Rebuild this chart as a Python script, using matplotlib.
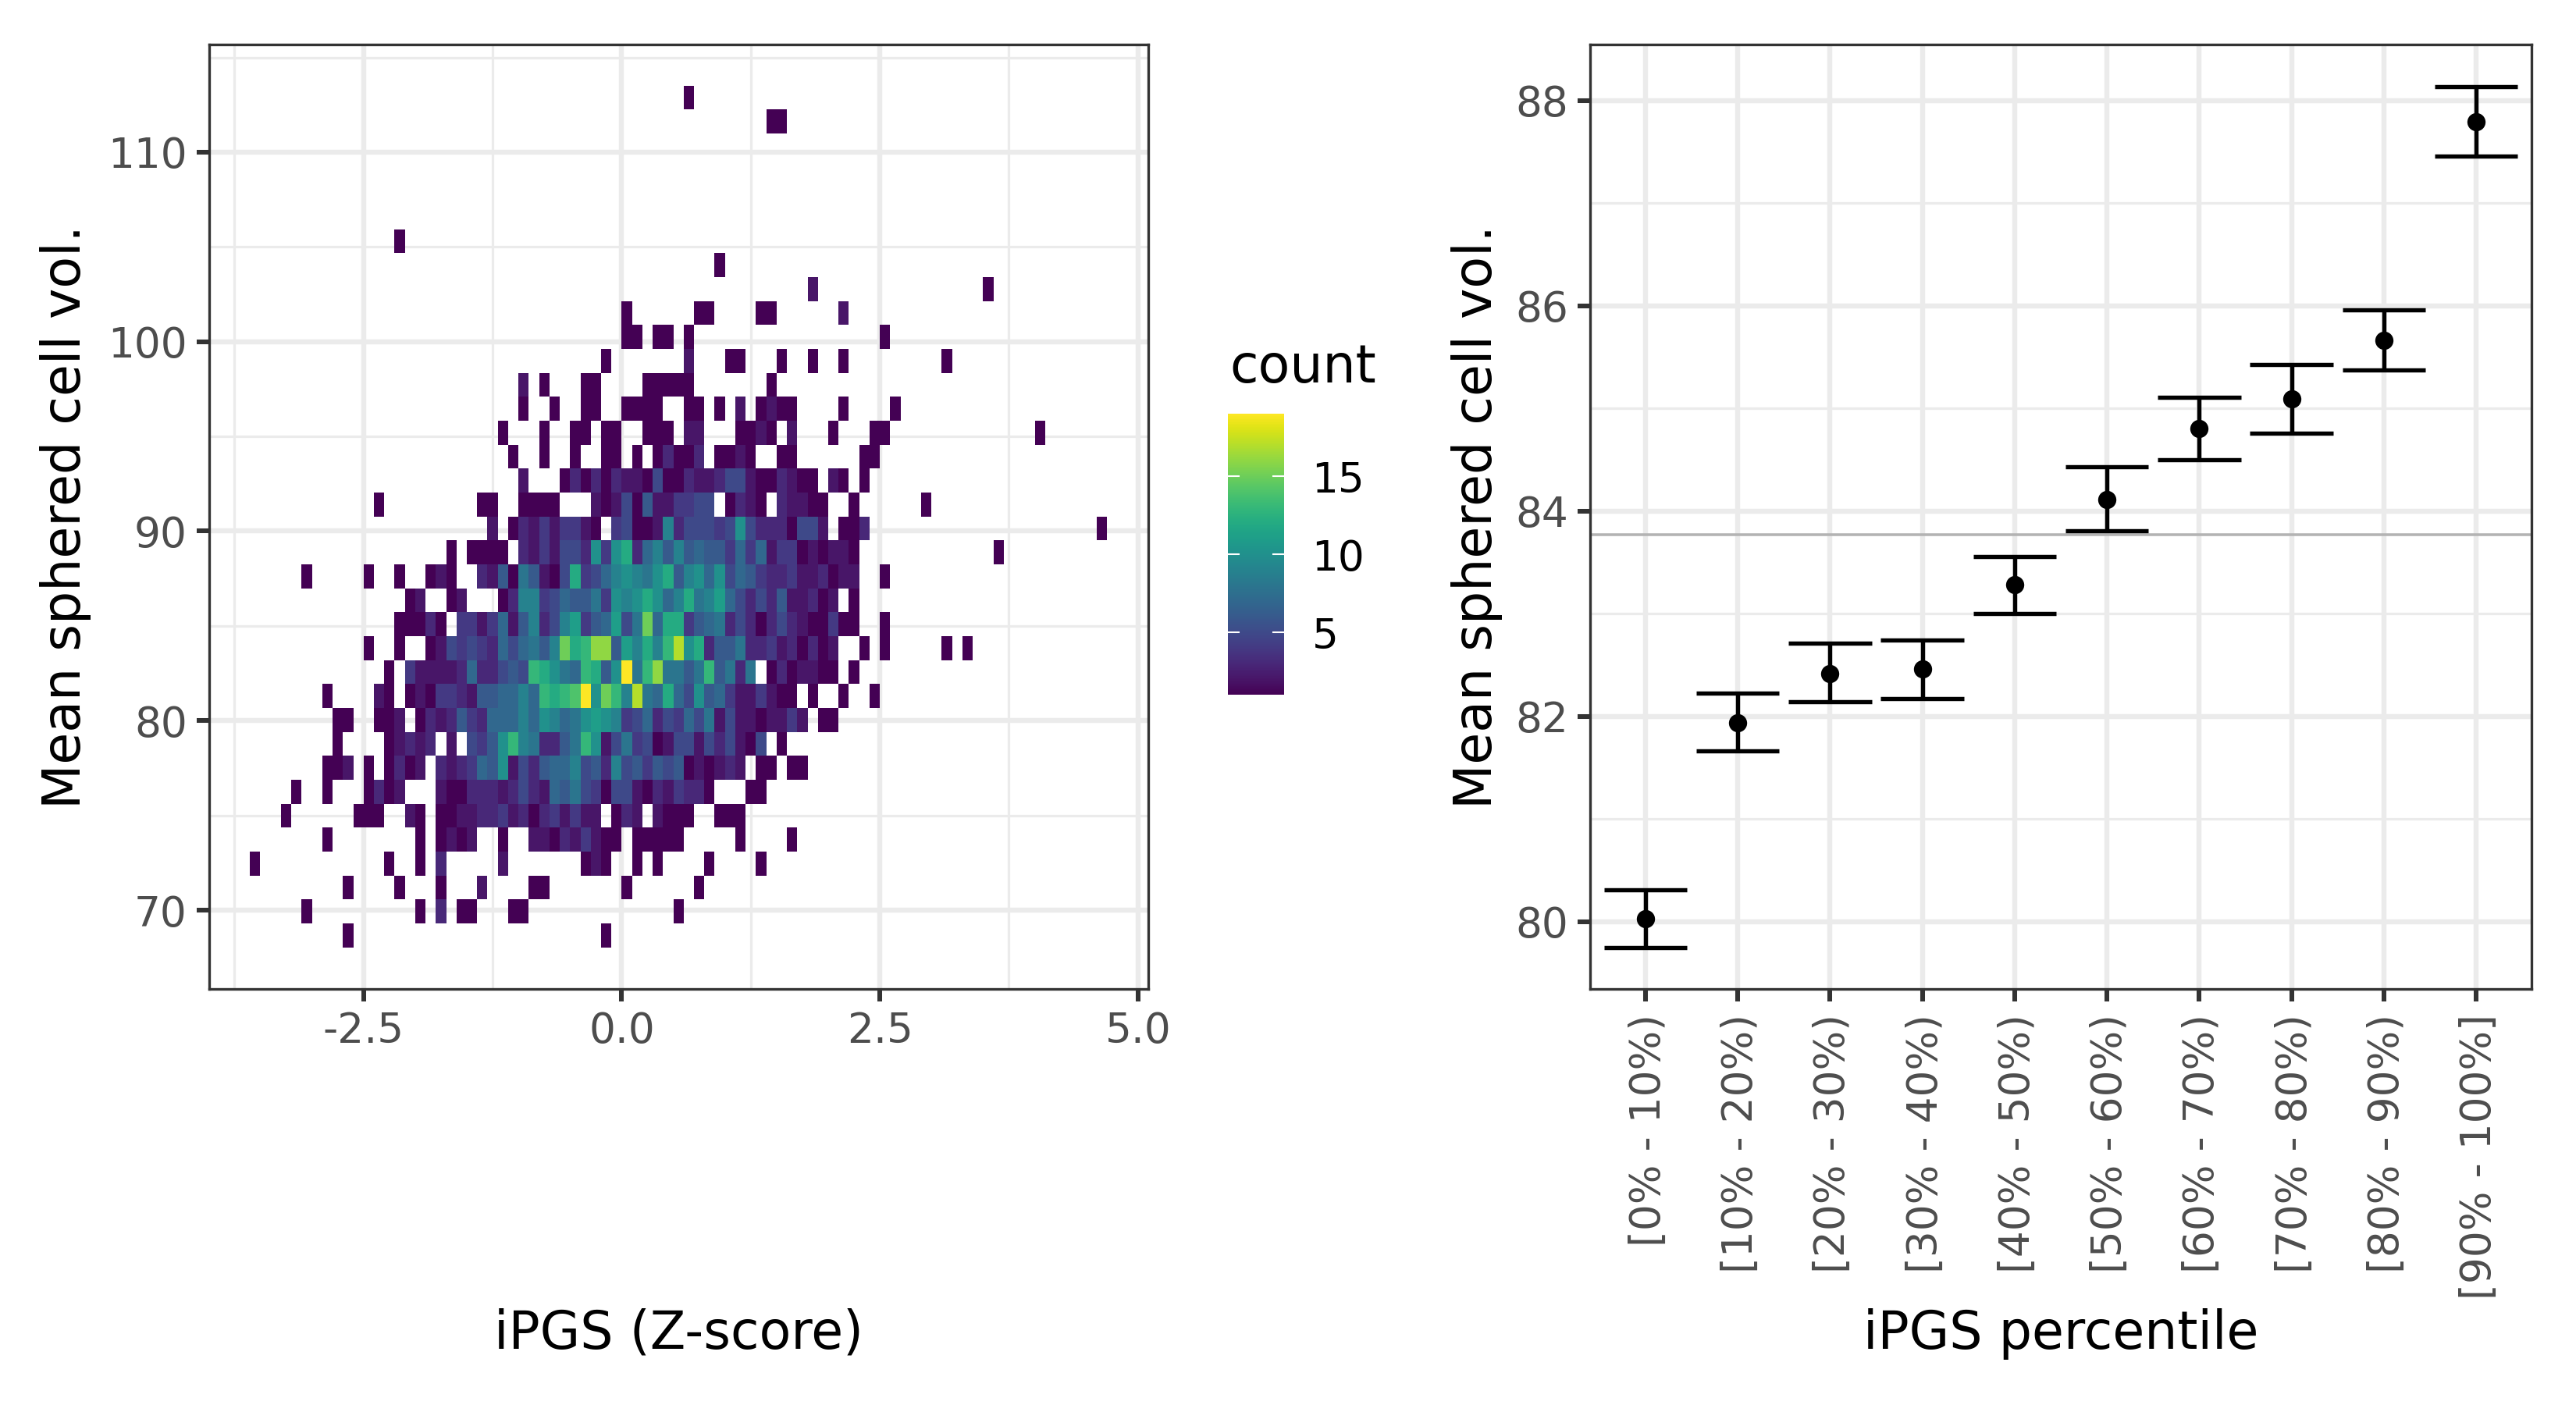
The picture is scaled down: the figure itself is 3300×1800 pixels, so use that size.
import numpy as np
import matplotlib
matplotlib.use('Agg')
import matplotlib.pyplot as plt
from matplotlib.transforms import ScaledTranslation

# Heatmap: non-empty bins per row, listed from the top row down ({column: count})
count_rows = [
    {42: 1},
    {50: 1, 51: 1},
    {},
    {},
    {},
    {},
    {14: 1},
    {45: 1},
    {54: 2, 71: 1},
    {36: 1, 43: 1, 44: 1, 49: 1, 50: 1, 57: 2},
    {36: 1, 37: 1, 39: 1, 40: 1, 42: 1, 61: 1},
    {34: 1, 42: 2, 46: 1, 47: 1, 51: 1, 54: 1, 57: 1, 67: 1},
    {26: 2, 28: 1, 32: 1, 33: 1, 38: 1, 39: 1, 40: 1, 41: 1, 42: 1, 50: 1},
    {26: 1, 29: 1, 32: 1, 33: 1, 36: 1, 37: 1, 38: 1, 39: 1, 42: 1, 43: 1, 45: 1,
     47: 2, 49: 1, 50: 2, 51: 1, 52: 1, 57: 1, 62: 1},
    {24: 1, 28: 1, 31: 1, 32: 1, 34: 1, 35: 1, 38: 1, 39: 1, 40: 1, 42: 2, 43: 2,
     47: 1, 48: 1, 49: 2, 50: 1, 52: 2, 56: 1, 60: 1, 61: 1, 76: 1},
    {25: 1, 28: 1, 31: 1, 34: 1, 35: 1, 37: 1, 39: 1, 40: 3, 41: 1, 42: 1, 43: 3,
     45: 1, 46: 1, 47: 2, 48: 1, 51: 1, 52: 1, 59: 1, 60: 1},
    {26: 2, 30: 1, 31: 3, 32: 1, 33: 3, 34: 1, 35: 3, 36: 2, 37: 2, 38: 1, 39: 5,
     40: 1, 41: 1, 42: 3, 43: 2, 44: 2, 45: 3, 46: 5, 47: 5, 48: 2, 49: 1, 50: 1,
     51: 3, 52: 2, 53: 1, 54: 1, 56: 2, 57: 1, 59: 1},
    {12: 1, 22: 1, 23: 1, 26: 1, 27: 1, 28: 1, 29: 1, 33: 2, 34: 1, 35: 2, 36: 5,
     37: 1, 38: 6, 39: 2, 40: 2, 41: 4, 42: 4, 43: 5, 44: 5, 46: 1, 47: 3, 48: 2,
     49: 1, 51: 3, 52: 2, 53: 2, 54: 1, 55: 1, 58: 1, 65: 1},
    {23: 2, 25: 1, 26: 3, 27: 2, 28: 4, 29: 2, 30: 4, 31: 4, 32: 2, 33: 1, 35: 4,
     36: 5, 37: 1, 38: 1, 39: 2, 40: 9, 41: 3, 42: 5, 43: 5, 44: 5, 45: 4, 46: 5,
     47: 10, 48: 5, 49: 3, 50: 3, 51: 3, 52: 1, 53: 5, 54: 5, 55: 2, 57: 1, 58: 1,
     59: 3, 82: 1},
    {19: 1, 21: 1, 22: 1, 23: 1, 24: 1, 26: 3, 27: 2, 28: 4, 29: 2, 30: 5, 31: 5,
     32: 3, 33: 10, 34: 4, 35: 10, 36: 12, 37: 3, 38: 7, 39: 9, 40: 6, 41: 9, 42: 6,
     43: 7, 44: 6, 45: 6, 46: 4, 47: 7, 48: 4, 49: 7, 50: 2, 51: 4, 52: 4, 53: 1,
     54: 2, 55: 1, 56: 2, 57: 2, 58: 1, 72: 1},
    {5: 1, 11: 1, 14: 1, 17: 1, 18: 2, 19: 1, 22: 3, 23: 2, 24: 6, 25: 1, 26: 8,
     27: 6, 28: 2, 29: 1, 30: 5, 31: 12, 32: 4, 33: 5, 34: 7, 35: 9, 36: 10, 37: 9,
     38: 8, 39: 10, 40: 12, 41: 6, 42: 9, 43: 10, 44: 7, 45: 10, 46: 5, 47: 7, 48: 6,
     49: 4, 50: 3, 51: 3, 52: 4, 53: 2, 54: 2, 55: 3, 56: 1, 57: 2, 58: 2, 61: 1},
    {15: 1, 16: 2, 19: 1, 20: 2, 24: 1, 25: 3, 26: 9, 27: 9, 28: 4, 29: 5, 30: 7,
     31: 6, 32: 6, 33: 8, 34: 4, 35: 10, 36: 9, 37: 10, 38: 12, 39: 10, 40: 7, 41: 9,
     42: 12, 43: 8, 44: 9, 45: 11, 46: 7, 47: 5, 48: 3, 49: 5, 50: 3, 51: 6, 52: 2,
     53: 2, 54: 3, 55: 1, 56: 2, 58: 1},
    {14: 1, 15: 1, 16: 1, 17: 3, 18: 1, 20: 4, 21: 4, 22: 2, 23: 4, 24: 7, 25: 2,
     26: 6, 27: 9, 28: 3, 29: 5, 30: 9, 31: 11, 32: 4, 33: 6, 34: 7, 35: 11, 36: 5,
     37: 8, 38: 15, 39: 7, 40: 12, 41: 12, 42: 4, 43: 6, 44: 7, 45: 8, 46: 3, 47: 5,
     48: 3, 49: 1, 50: 3, 51: 5, 52: 3, 53: 2, 54: 1, 55: 1, 56: 4, 57: 1, 58: 1, 61: 1},
    {11: 1, 14: 1, 17: 1, 18: 2, 19: 5, 20: 4, 21: 5, 22: 4, 23: 3, 24: 7, 25: 5,
     26: 7, 27: 8, 28: 6, 29: 9, 30: 15, 31: 12, 32: 13, 33: 16, 34: 16, 35: 6, 36: 11,
     37: 9, 38: 12, 39: 9, 40: 13, 41: 17, 42: 10, 43: 12, 44: 3, 45: 6, 46: 6, 47: 8,
     48: 3, 49: 3, 50: 4, 51: 2, 52: 3, 53: 1, 54: 3, 55: 1, 56: 2, 59: 1, 61: 1, 67: 1, 69: 1},
    {13: 1, 15: 4, 16: 2, 17: 2, 18: 2, 19: 2, 20: 3, 21: 7, 22: 3, 23: 3, 24: 5,
     25: 6, 26: 5, 27: 13, 28: 12, 29: 10, 30: 8, 31: 7, 32: 13, 33: 12, 34: 6, 35: 10,
     36: 19, 37: 8, 38: 13, 39: 16, 40: 8, 41: 8, 42: 6, 43: 8, 44: 13, 45: 6, 46: 8,
     47: 3, 48: 8, 50: 1, 51: 3, 52: 1, 53: 2, 54: 2, 55: 1, 56: 1, 58: 1},
    {7: 1, 12: 2, 13: 1, 15: 1, 16: 2, 17: 1, 18: 4, 19: 4, 20: 3, 21: 2, 22: 6,
     23: 6, 24: 7, 25: 7, 26: 9, 27: 7, 28: 13, 29: 12, 30: 13, 31: 14, 32: 19, 33: 10,
     34: 15, 35: 13, 36: 9, 37: 17, 38: 8, 39: 7, 40: 12, 41: 7, 42: 5, 43: 10, 44: 6,
     45: 7, 46: 4, 47: 2, 48: 2, 49: 4, 50: 2, 51: 1, 52: 1, 54: 1, 57: 1, 60: 1},
    {8: 1, 9: 1, 12: 1, 13: 1, 14: 2, 16: 1, 17: 3, 18: 2, 19: 3, 20: 6, 21: 4,
     22: 3, 23: 7, 24: 7, 25: 7, 26: 9, 27: 7, 28: 10, 29: 9, 30: 7, 31: 8, 32: 10,
     33: 11, 34: 10, 35: 9, 36: 4, 37: 5, 38: 7, 39: 3, 40: 5, 41: 4, 42: 7, 43: 5,
     44: 8, 45: 2, 46: 5, 47: 2, 48: 2, 49: 1, 50: 2, 51: 2, 52: 4, 53: 2, 55: 1, 56: 1},
    {8: 1, 13: 1, 14: 2, 15: 3, 16: 2, 17: 3, 19: 2, 21: 5, 22: 4, 23: 6, 24: 10,
     25: 13, 26: 9, 27: 8, 28: 3, 29: 3, 30: 6, 31: 8, 32: 13, 33: 10, 34: 2, 35: 5,
     36: 8, 37: 4, 38: 5, 39: 1, 40: 2, 41: 5, 42: 5, 43: 2, 44: 5, 45: 3, 46: 5,
     47: 2, 48: 1, 49: 5, 51: 1},
    {7: 1, 8: 1, 9: 2, 11: 1, 13: 1, 14: 3, 15: 1, 16: 2, 18: 3, 19: 2, 20: 3,
     21: 4, 22: 7, 23: 6, 24: 10, 25: 2, 26: 5, 27: 3, 28: 6, 29: 7, 30: 7, 31: 9,
     32: 5, 33: 6, 34: 3, 35: 9, 36: 5, 37: 6, 38: 4, 39: 6, 40: 5, 41: 6, 42: 1,
     43: 2, 44: 1, 45: 2, 46: 3, 47: 2, 49: 1, 50: 1, 52: 1, 53: 1},
    {4: 1, 7: 1, 11: 1, 12: 3, 13: 1, 14: 2, 18: 2, 19: 1, 20: 1, 21: 3, 22: 3,
     23: 3, 24: 2, 25: 3, 26: 5, 27: 3, 28: 2, 29: 7, 30: 6, 31: 8, 32: 5, 33: 4,
     34: 1, 35: 5, 36: 5, 37: 2, 38: 1, 39: 3, 40: 2, 41: 4, 42: 3, 43: 3, 44: 1,
     48: 1, 49: 1},
    {3: 1, 10: 1, 11: 1, 12: 1, 15: 2, 16: 1, 18: 1, 19: 1, 20: 2, 21: 2, 22: 3,
     23: 3, 24: 4, 25: 2, 26: 3, 27: 1, 28: 3, 29: 4, 30: 2, 31: 4, 32: 2, 33: 2,
     35: 1, 36: 3, 37: 2, 39: 2, 40: 1, 41: 1, 42: 1, 45: 1, 46: 1, 47: 1},
    {7: 1, 16: 1, 18: 1, 19: 2, 20: 1, 21: 2, 24: 1, 27: 2, 28: 2, 29: 1, 30: 3,
     31: 2, 32: 4, 33: 2, 34: 1, 35: 1, 37: 1, 38: 1, 39: 1, 40: 1, 41: 1, 47: 1, 52: 1},
    {0: 1, 13: 1, 16: 1, 18: 3, 24: 2, 32: 1, 33: 2, 34: 1, 37: 1, 39: 1, 44: 1, 49: 1},
    {9: 1, 14: 1, 18: 1, 22: 2, 27: 1, 28: 1, 36: 1, 43: 1},
    {5: 1, 16: 1, 18: 3, 20: 1, 21: 1, 25: 1, 26: 1, 41: 1},
    {9: 1, 34: 1},
]
n_cols = 83
x_start, x_bin = -3.6, 0.1
y_start, y_bin = 68.04, 1.263

# Percentile panel
percentile_labels = ['[0% - 10%)', '[10% - 20%)', '[20% - 30%)', '[30% - 40%)', '[40% - 50%)',
                     '[50% - 60%)', '[60% - 70%)', '[70% - 80%)', '[80% - 90%)', '[90% - 100%]']
pct_mean = [80.03, 81.94, 82.42, 82.46, 83.28, 84.11, 84.80, 85.09, 85.66, 87.79]
pct_low = [79.75, 81.66, 82.14, 82.175, 83.00, 83.81, 84.50, 84.755, 85.376, 87.458]
pct_high = [80.31, 82.23, 82.71, 82.74, 83.56, 84.43, 85.11, 85.427, 85.96, 88.136]
overall_mean = 83.77

W, H = 3300, 1800
plt.rcParams['font.family'] = 'DejaVu Sans'
fig = plt.figure(figsize=(W / 300, H / 300), dpi=300)


def px_axes(left, top, right, bottom):
    return fig.add_axes([left / W, 1 - bottom / H, (right - left) / W, (bottom - top) / H])


def style_panel(ax):
    ax.set_axisbelow(True)
    ax.grid(True, which='major', color='#EBEBEB', lw=1.55)
    ax.grid(True, which='minor', color='#EBEBEB', lw=0.77)
    ax.tick_params(which='major', length=3.75, width=1.45, color='#333333',
                   labelcolor='#4D4D4D', labelsize=12.8, pad=3)
    ax.tick_params(which='minor', length=0)
    for s in ax.spines.values():
        s.set_color('#333333')
        s.set_linewidth(0.8)
        s.set_zorder(5)


# Left panel: binned heatmap
counts = np.full((len(count_rows), n_cols), np.nan)
for i, row in enumerate(count_rows):
    for col, n in row.items():
        counts[len(count_rows) - 1 - i, col] = n
x_edges = x_start + x_bin * np.arange(n_cols + 1)
y_edges = y_start + y_bin * np.arange(len(count_rows) + 1)

ax1 = px_axes(268, 57, 1471, 1267)
mesh = ax1.pcolormesh(x_edges, y_edges, np.ma.masked_invalid(counts), cmap='viridis',
                      vmin=1, vmax=19, antialiased=True, linewidth=0, zorder=2)
ax1.set_xlim(-3.995, 5.10)
ax1.set_ylim(65.84, 115.68)
ax1.set_xticks([-2.5, 0, 2.5, 5])
ax1.set_xticklabels(['-2.5', '0.0', '2.5', '5.0'])
ax1.set_xticks([-3.75, -1.25, 1.25, 3.75], minor=True)
ax1.set_yticks([70, 80, 90, 100, 110])
ax1.set_yticks([75, 85, 95, 105, 115], minor=True)
style_panel(ax1)

# Colour legend
cax = fig.add_axes([1573 / W, 1 - 890 / H, 72 / W, 360 / H])
cbar = fig.colorbar(mesh, cax=cax, ticks=[5, 10, 15])
cbar.outline.set_visible(False)
cax.tick_params(length=0, pad=8.5, labelsize=12.8, labelcolor='black')
for v in [5, 10, 15]:
    cax.plot([0, 0.2], [v, v], color='white', lw=0.5)
    cax.plot([0.8, 1], [v, v], color='white', lw=0.5)
fig.text(1575 / W, 1 - 490 / H, 'count', fontsize=16, ha='left', va='baseline')

# Right panel: means with intervals
ax2 = px_axes(2037, 57, 3243, 1267)
xs = np.arange(len(percentile_labels))
ax2.axhline(overall_mean, color='#B3B3B3', lw=0.85, zorder=2)
ax2.vlines(xs, pct_low, pct_high, color='black', lw=1.3, zorder=3)
ax2.hlines(pct_low, xs - 0.45, xs + 0.45, color='black', lw=1.3, zorder=3)
ax2.hlines(pct_high, xs - 0.45, xs + 0.45, color='black', lw=1.3, zorder=3)
ax2.plot(xs, pct_mean, 'o', color='black', ms=5.6, mew=0, zorder=4)
ax2.set_xlim(-0.6, 9.6)
ax2.set_ylim(79.345, 88.544)
ax2.set_xticks(xs)
ax2.set_xticklabels(percentile_labels, rotation=90, ha='center', va='top')
ax2.set_yticks([80, 82, 84, 86, 88])
ax2.set_yticks([81, 83, 85, 87], minor=True)
style_panel(ax2)
ax2.tick_params(axis='x', which='major', pad=4)
# tick_params resets the label transform, so shift the rotated labels afterwards
nudge = ScaledTranslation(4 / 300, 0, fig.dpi_scale_trans)
for lab in ax2.get_xticklabels():
    lab.set_transform(lab.get_transform() + nudge)

# Axis titles
fig.text(84 / W, 1 - 662 / H, 'Mean sphered cell vol.', fontsize=16, rotation=90, ha='center', va='center')
fig.text(1892 / W, 1 - 662 / H, 'Mean sphered cell vol.', fontsize=16, rotation=90, ha='center', va='center')
fig.text(870 / W, 1 - 1709 / H, 'iPGS (Z-score)', fontsize=16, ha='center', va='center')
fig.text(2640 / W, 1 - 1709 / H, 'iPGS percentile', fontsize=16, ha='center', va='center')

fig.savefig('out.png', dpi=300, facecolor='white')
